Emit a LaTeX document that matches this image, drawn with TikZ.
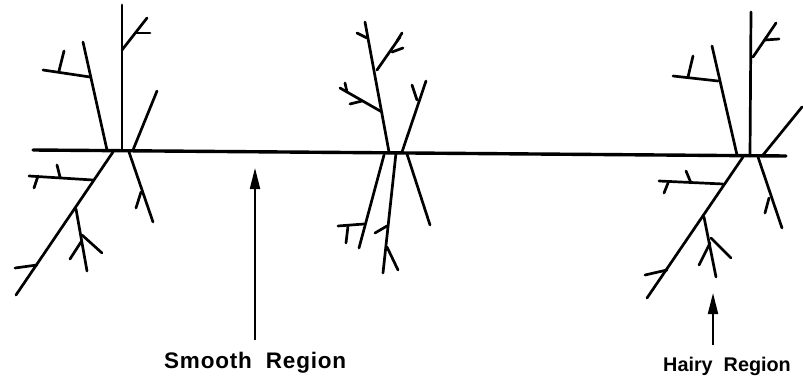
\documentclass[tikz,border=0pt]{standalone}
\usepackage{fontspec}
\setmainfont{Liberation Sans}
\usetikzlibrary{arrows.meta}
\tikzset{
  br/.style={line width=2.7pt, line cap=round},
  axis/.style={line width=3.4pt, line cap=round},
  arr/.style={line width=2pt, -{Triangle[length=21pt,width=10pt]}},
  lab/.style={inner sep=0pt, font=\fontsize{22.5}{24}\selectfont\bfseries\addfontfeature{LetterSpace=3.5}},
  labh/.style={inner sep=0pt, font=\fontsize{19.8}{22}\selectfont\bfseries}
}
\begin{document}
\begin{tikzpicture}[x=1pt,y=-1pt]
\useasboundingbox (0,0) rectangle (803,380);
% main line
\draw[axis] (33,150) -- (786,156);
% left cluster, upper
\draw[br] (122,5) -- (122,150);
\draw[br] (122,50) -- (147,18);
\draw[br] (137,33) -- (150,33);
\draw[br] (83,42) -- (107,150);
\draw[br] (90,77) -- (43,70);
\draw[br] (59,71) -- (64,51);
\draw[br] (133,150) -- (157,91);
% left cluster, lower
\draw[br] (113,152) -- (16,295);
\draw[br] (93,180) -- (29,176);
\draw[br] (60,177) -- (57,165);
\draw[br] (38,176) -- (34,188);
\draw[br] (76,209) -- (87,271);
\draw[br] (82,235) -- (102,253);
\draw[br] (81,242) -- (70,259);
\draw[br] (37,265) -- (15,268);
\draw[br] (129,152) -- (153,222);
\draw[br] (141,192) -- (136,208);
% middle cluster, upper
\draw[br] (389,152) -- (365,22);
\draw[br] (367,38) -- (357,33);
\draw[br] (377,70) -- (400,37);
\draw[br] (392,52) -- (403,48);
\draw[br] (397,41) -- (402,33);
\draw[br] (382,112) -- (340,88);
\draw[br] (362,101) -- (350,104);
\draw[br] (347,92) -- (345,83);
\draw[br] (402,152) -- (426,81);
\draw[br] (417,100) -- (412,85);
% middle cluster, lower
\draw[br] (384,155) -- (359,248);
\draw[br] (364,224) -- (338,226);
\draw[br] (348,226) -- (346,243);
\draw[br] (396,153) -- (383,273);
\draw[br] (387,226) -- (375,233);
\draw[br] (387,247) -- (398,270);
\draw[br] (407,154) -- (430,225);
% right cluster, upper
\draw[br] (751,12) -- (750,156);
\draw[br] (753,57) -- (776,23);
\draw[br] (765,40) -- (779,39);
\draw[br] (712,46) -- (737,155);
\draw[br] (718,81) -- (673,76);
\draw[br] (688,77) -- (693,56);
\draw[br] (763,155) -- (802,107);
% right cluster, lower
\draw[br] (743,157) -- (647,298);
\draw[br] (723,184) -- (659,181);
\draw[br] (691,183) -- (686,171);
\draw[br] (668,183) -- (664,193);
\draw[br] (704,217) -- (716,277);
\draw[br] (710,243) -- (699,265);
\draw[br] (711,238) -- (731,258);
\draw[br] (667,270) -- (645,275);
\draw[br] (758,157) -- (782,228);
\draw[br] (769,198) -- (765,213);
% labels and arrows
\node[lab, anchor=base west] (smooth) at (164,368) {Smooth\ \ Region};
\node[labh, anchor=base west] (hairy) at (663,371) {Hairy\ \ Region};
\coordinate (sb) at (255,340);
\coordinate (st) at (255,168);
\coordinate (hb) at (713,345);
\coordinate (ht) at (713,293);
\draw[arr] (sb) -- (st);
\draw[arr] (hb) -- (ht);
\end{tikzpicture}
\end{document}
